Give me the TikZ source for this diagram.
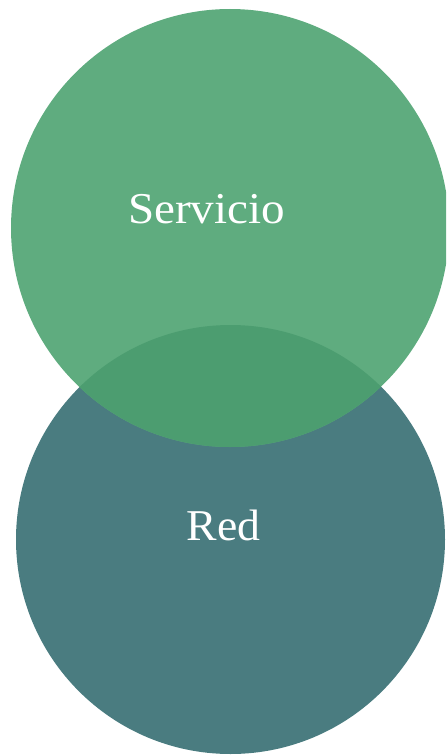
\documentclass[tikz,border=0pt]{standalone}
\usepackage{fontspec}
\setmainfont{Liberation Serif}
\definecolor{topgreen}{RGB}{95,172,127}
\definecolor{overlapgreen}{RGB}{76,157,112}
\definecolor{bottomteal}{RGB}{74,124,128}
\tikzset{
  vlabel/.style={text=white, font=\fontsize{33}{38}\selectfont, anchor=base, inner sep=0pt}
}
\begin{document}
\begin{tikzpicture}[x=0.75pt,y=-0.75pt]
\useasboundingbox (0,0) rectangle (446,756);
\begin{scope}
\clip (0,0) rectangle (446,756);
\fill[bottomteal] (230.5,539.5) circle (214.5);
\fill[topgreen] (230,228) circle (219);
\begin{scope}
\clip (230.5,539.5) circle (214.5);
\fill[overlapgreen] (230,228) circle (219);
\end{scope}
\end{scope}
\node[vlabel] (serv) at (206.5,223) {\scalebox{1.07}[1]{Servicio}};
\node[vlabel] (red) at (223.5,540) {\scalebox{1.04}[1]{Red}};
\end{tikzpicture}
\end{document}
